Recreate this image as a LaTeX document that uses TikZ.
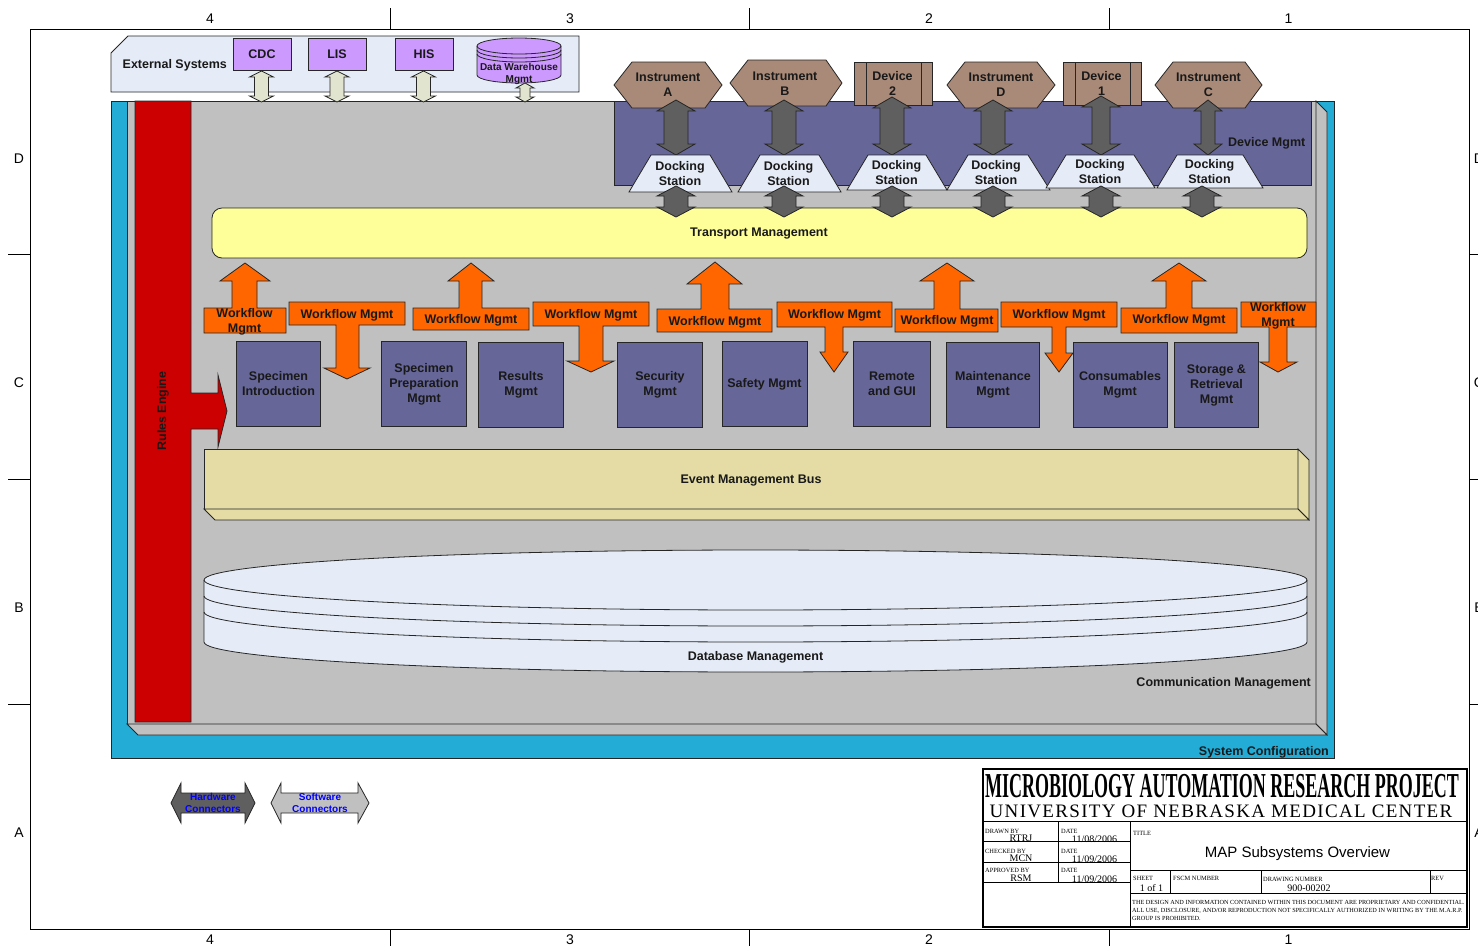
\documentclass[tikz,border=0pt]{standalone}
\usepackage{fontspec}
\setmainfont{Liberation Sans}
\newfontfamily\serifname{Liberation Serif}
\newfontfamily\uniname[LetterSpace=7]{Liberation Serif}
\usetikzlibrary{calc}
\definecolor{cfgblue}{HTML}{22ACD6}
\definecolor{panelgray}{HTML}{C0C0C0}
\definecolor{rulesred}{HTML}{CC0000}
\definecolor{mgmtblue}{HTML}{666699}
\definecolor{paleblue}{HTML}{E6ECF7}
\definecolor{extpurple}{HTML}{CC99FF}
\definecolor{linkpale}{HTML}{E1E4CF}
\definecolor{linkdark}{HTML}{5F5F5F}
\definecolor{instbrown}{HTML}{A98A78}
\definecolor{transyellow}{HTML}{FFFF99}
\definecolor{wforange}{HTML}{FF6600}
\definecolor{eventtan}{HTML}{E4DCA4}
\tikzset{
  shape line/.style={draw=black!85,line width=0.8pt,line join=miter},
  lbl/.style={font=\fontsize{12.5}{15}\selectfont\bfseries,align=center,inner sep=0pt,text=black!90},
  smalllbl/.style={font=\fontsize{10}{12}\selectfont\bfseries,align=center,inner sep=0pt,text=black!90},
  bluelbl/.style={font=\fontsize{10}{11.5}\selectfont\bfseries,align=center,inner sep=0pt,text=blue},
  grid lbl/.style={font=\fontsize{14}{16}\selectfont,inner sep=0pt},
  extbox/.style={shape line,fill=extpurple,lbl,minimum width=58,minimum height=32},
  subsys/.style={shape line,fill=mgmtblue,lbl,minimum height=85},
  wfarrow/.style={shape line,fill=wforange},
  hwlink/.style={shape line,fill=linkdark},
  swlink/.style={shape line,fill=linkpale},
  instr/.style={shape line,fill=instbrown},
  dock/.style={shape line,fill=paleblue},
  tb line/.style={draw=black,line width=0.9pt},
  tb tag/.style={font=\serifname\fontsize{6.4}{7}\selectfont,inner sep=0pt,anchor=west},
  tb val/.style={font=\serifname\fontsize{10}{11}\selectfont,inner sep=0pt},
  tb note/.style={font=\serifname\fontsize{6.25}{8}\selectfont,inner sep=0pt,anchor=north west,align=left},
}
\newcommand{\dblarrow}[8]{
  \coordinate (#2a) at (#3,#4);
  \coordinate (#2b) at (#3,#5);
  \draw[#1] (#2a) -- ($(#2a)+(#7,#8)$) -- ($(#2a)+(#6,#8)$) -- ($(#2b)+(#6,-#8)$) -- ($(#2b)+(#7,-#8)$) -- (#2b)
    -- ($(#2b)+(-#7,-#8)$) -- ($(#2b)+(-#6,-#8)$) -- ($(#2a)+(-#6,#8)$) -- ($(#2a)+(-#7,#8)$) -- cycle;
}
\begin{document}
\begin{tikzpicture}[x=1pt,y=-1pt]
  \useasboundingbox (0,0) rectangle (1478,946);
  \fill[white] (0,0) rectangle (1478,946);

  \draw[line width=0.8pt] (30,29) rectangle (1469,929);
  \draw[line width=0.8pt] (390,8) -- (390,29) (749,8) -- (749,29) (1109,8) -- (1109,29);
  \draw[line width=0.8pt] (390,929) -- (390,946) (749,929) -- (749,946) (1109,929) -- (1109,946);
  \draw[line width=0.8pt] (8,254) -- (30,254) (8,479) -- (30,479) (8,704) -- (30,704);
  \draw[line width=0.8pt] (1469,254) -- (1478,254) (1469,479) -- (1478,479) (1469,704) -- (1478,704);
  \node[grid lbl] (topfour) at (210,18.5) {4};
  \node[grid lbl] (topthree) at (570,18.5) {3};
  \node[grid lbl] (toptwo) at (929,18.5) {2};
  \node[grid lbl] (topone) at (1288.5,18.5) {1};
  \node[grid lbl] (botfour) at (210,940) {4};
  \node[grid lbl] (botthree) at (570,940) {3};
  \node[grid lbl] (bottwo) at (929,940) {2};
  \node[grid lbl] (botone) at (1288.5,940) {1};
  \node[grid lbl] (leftD) at (19,159) {D};
  \node[grid lbl] (leftC) at (19,383) {C};
  \node[grid lbl] (leftB) at (19,608) {B};
  \node[grid lbl] (leftA) at (19,833) {A};
  \node[grid lbl] (rightD) at (1479,159) {D};
  \node[grid lbl] (rightC) at (1479,383) {C};
  \node[grid lbl] (rightB) at (1479,608) {B};
  \node[grid lbl] (rightA) at (1479,833) {A};

  \draw[shape line,fill=paleblue] (111,53) -- (128,36) -- (579,36) -- (579,92) -- (111,92) -- cycle;
  \node[lbl,anchor=west] (extsys) at (122.5,65) {External Systems};
  \node[extbox] (cdc) at (262,54) {CDC};
  \node[extbox] (lis) at (337,54.5) {LIS};
  \node[extbox] (his) at (424,54.5) {HIS};
  \draw[shape line,fill=extpurple] (477,46) -- (477,75) arc[start angle=180,end angle=0,x radius=42,y radius=8] -- (561,46) arc[start angle=0,end angle=-180,x radius=42,y radius=8] -- cycle;
  \draw[shape line] (477,46) arc[start angle=180,end angle=0,x radius=42,y radius=8];
  \draw[shape line] (477,50) arc[start angle=180,end angle=0,x radius=42,y radius=8];
  \draw[shape line] (477,54) arc[start angle=180,end angle=0,x radius=42,y radius=8];
  \node[smalllbl] (dwh) at (519,74) {Data Warehouse\\Mgmt};

  \fill[cfgblue] (111,101) rectangle (1334,758);
  \draw[shape line] (111,101) rectangle (1334,758);
  \draw[shape line,fill=panelgray] (127,101) rectangle (1316,724);
  \draw[shape line,fill=panelgray] (1316,101) -- (1327,112) -- (1327,735) -- (1316,724) -- cycle;
  \draw[shape line,fill=panelgray] (127,724) -- (1316,724) -- (1327,735) -- (138,735) -- cycle;

  \dblarrow{swlink}{cdclink}{261.5}{71}{102}{7}{12}{6}
  \dblarrow{swlink}{lislink}{337}{71}{102}{7}{12}{6}
  \dblarrow{swlink}{hislink}{423.5}{71}{102}{7}{12}{6}
  \dblarrow{swlink}{dwhlink}{525}{83}{102}{5}{9}{5}

  \draw[shape line,fill=rulesred] (135,101) -- (191,101) -- (191,393) -- (218,393) -- (218,375) -- (227,411) -- (218,447) -- (218,429) -- (191,429) -- (191,722) -- (135,722) -- cycle;
  \node[lbl,rotate=90] (rules) at (163,411) {Rules Engine};

  \draw[shape line,fill=mgmtblue] (614,101) rectangle (1311,185);
  \node[lbl,anchor=east] (devmgmt) at (1305.5,143) {Device Mgmt};

  \draw[instr] (614,85) -- (632,62) -- (705,62) -- (722,85) -- (705,108) -- (632,108) -- cycle;
  \node[lbl] (instA) at (668,84.5) {Instrument\\A};
  \draw[instr] (730,83) -- (748,60) -- (826,60) -- (842,83) -- (826,106) -- (748,106) -- cycle;
  \node[lbl] (instB) at (785,83.5) {Instrument\\B};
  \draw[instr] (854,62) rectangle (932,105);
  \draw[shape line] (866,62) -- (866,105) (921,62) -- (921,105);
  \node[lbl] (devtwo) at (892.5,83.5) {Device\\2};
  \draw[instr] (947,85) -- (965,62) -- (1037,62) -- (1055,85) -- (1037,108) -- (965,108) -- cycle;
  \node[lbl] (instD) at (1001,84.5) {Instrument\\D};
  \draw[instr] (1063,62) rectangle (1141,105);
  \draw[shape line] (1075,62) -- (1075,105) (1130,62) -- (1130,105);
  \node[lbl] (devone) at (1101.5,83.5) {Device\\1};
  \draw[instr] (1155,85) -- (1173,62) -- (1245,62) -- (1262,85) -- (1245,108) -- (1173,108) -- cycle;
  \node[lbl] (instC) at (1208.5,84.5) {Instrument\\C};

  \draw[shape line,fill=transyellow,rounded corners=10] (212,208) rectangle (1307,258);
  \node[lbl] (transport) at (759,234) {Transport Management};

  \dblarrow{hwlink}{hwA}{676}{100}{155}{12}{19}{11}
  \dblarrow{hwlink}{hwB}{784}{100}{155}{12}{19}{11}
  \dblarrow{hwlink}{hwtwo}{892}{97}{155}{12}{19}{11}
  \dblarrow{hwlink}{hwD}{993}{100}{155}{12}{19}{11}
  \dblarrow{hwlink}{hwone}{1101}{96}{155}{9}{19}{11}
  \dblarrow{hwlink}{hwC}{1208}{100}{155}{7}{14}{11}

  \draw[dock] (629,192) -- (651,155) -- (710,155) -- (732,192) -- cycle;
  \node[lbl] (dockA) at (680,173.5) {Docking\\Station};
  \draw[dock] (738,192) -- (760,155) -- (819,155) -- (841,192) -- cycle;
  \node[lbl] (dockB) at (788.5,173.5) {Docking\\Station};
  \draw[dock] (847,190) -- (868,155) -- (926,155) -- (947,190) -- cycle;
  \node[lbl] (docktwo) at (896.5,172.5) {Docking\\Station};
  \draw[dock] (947,190) -- (968,155) -- (1028,155) -- (1050,190) -- cycle;
  \node[lbl] (dockD) at (996,172.5) {Docking\\Station};
  \draw[dock] (1046,188) -- (1066,155) -- (1134,155) -- (1155,188) -- cycle;
  \node[lbl] (dockone) at (1100,171.5) {Docking\\Station};
  \draw[dock] (1157,188) -- (1177,155) -- (1243,155) -- (1263,188) -- cycle;
  \node[lbl] (dockC) at (1209.5,171.5) {Docking\\Station};

  \dblarrow{hwlink}{tpA}{676}{186}{217}{12}{19}{10}
  \dblarrow{hwlink}{tpB}{784}{186}{217}{12}{19}{10}
  \dblarrow{hwlink}{tptwo}{892}{186}{217}{12}{19}{10}
  \dblarrow{hwlink}{tpD}{993}{186}{217}{12}{19}{10}
  \dblarrow{hwlink}{tpone}{1101}{186}{217}{12}{19}{10}
  \dblarrow{hwlink}{tpC}{1202}{186}{217}{12}{19}{10}

  \draw[wfarrow] (204,333) -- (286,333) -- (286,308) -- (257,308) -- (257,281) -- (270,281) -- (245,263) -- (220,281) -- (232,281) -- (232,308) -- (204,308) -- cycle;
  \node[lbl] (wfA) at (244.5,321.5) {Workflow\\Mgmt};
  \draw[wfarrow] (289,302) -- (405,302) -- (405,325) -- (359,325) -- (359,368) -- (370,368) -- (347,379) -- (324,368) -- (336,368) -- (336,325) -- (289,325) -- cycle;
  \node[lbl] (wfB) at (347,315) {Workflow Mgmt};
  \draw[wfarrow] (413,330) -- (529,330) -- (529,308) -- (482,308) -- (482,281) -- (494,281) -- (471,263) -- (448,281) -- (459,281) -- (459,308) -- (413,308) -- cycle;
  \node[lbl] (wfC) at (471,320) {Workflow Mgmt};
  \draw[wfarrow] (533,302) -- (649,302) -- (649,326) -- (603,326) -- (603,361) -- (614,361) -- (591,372) -- (567,361) -- (579,361) -- (579,326) -- (533,326) -- cycle;
  \node[lbl] (wfD) at (591,315) {Workflow Mgmt};
  \draw[wfarrow] (657,332) -- (772,332) -- (772,309) -- (729,309) -- (729,284) -- (742,284) -- (715,262) -- (687,284) -- (701,284) -- (701,309) -- (657,309) -- cycle;
  \node[lbl] (wfE) at (715,322) {Workflow Mgmt};
  \draw[wfarrow] (777,302) -- (892,302) -- (892,327) -- (843,327) -- (843,352) -- (848,352) -- (834,372) -- (820,352) -- (825,352) -- (825,327) -- (777,327) -- cycle;
  \node[lbl] (wfF) at (834.5,315) {Workflow Mgmt};
  \draw[wfarrow] (895,332) -- (998,332) -- (998,309) -- (960,309) -- (960,281) -- (974,281) -- (947,263) -- (920,281) -- (934,281) -- (934,309) -- (895,309) -- cycle;
  \node[lbl] (wfG) at (947,321) {Workflow Mgmt};
  \draw[wfarrow] (1001,302) -- (1117,302) -- (1117,327) -- (1066,327) -- (1066,353) -- (1073,353) -- (1059,372) -- (1045,353) -- (1052,353) -- (1052,327) -- (1001,327) -- cycle;
  \node[lbl] (wfH) at (1059,315) {Workflow Mgmt};
  \draw[wfarrow] (1121,333) -- (1237,333) -- (1237,308) -- (1192,308) -- (1192,281) -- (1206,281) -- (1179,263) -- (1152,281) -- (1166,281) -- (1166,308) -- (1121,308) -- cycle;
  \node[lbl] (wfI) at (1179,320.5) {Workflow Mgmt};
  \draw[wfarrow] (1241,302) -- (1316,302) -- (1316,327) -- (1287,327) -- (1287,362) -- (1297,362) -- (1278,372) -- (1260,362) -- (1269,362) -- (1269,327) -- (1241,327) -- cycle;
  \node[lbl] (wfJ) at (1278,315.5) {Workflow\\Mgmt};

  \node[subsys,minimum width=84] (specintro) at (278.5,383.5) {Specimen\\Introduction};
  \node[subsys,minimum width=85] (specprep) at (424,384) {Specimen\\Preparation\\Mgmt};
  \node[subsys,minimum width=85] (results) at (521,384.5) {Results\\Mgmt};
  \node[subsys,minimum width=85] (security) at (660,384.5) {Security\\Mgmt};
  \node[subsys,minimum width=85] (safety) at (764.5,384) {Safety Mgmt};
  \node[subsys,minimum width=77] (remote) at (892,383.5) {Remote\\and GUI};
  \node[subsys,minimum width=93] (maint) at (993,384.5) {Maintenance\\Mgmt};
  \node[subsys,minimum width=94] (consum) at (1120,385) {Consumables\\Mgmt};
  \node[subsys,minimum width=84] (storage) at (1216.5,385) {Storage \&\\Retrieval\\Mgmt};

  \draw[shape line,fill=eventtan] (204,449) -- (1298,449) -- (1298,509) -- (204,509) -- cycle;
  \draw[shape line,fill=eventtan] (1298,449) -- (1309,460) -- (1309,520) -- (1298,509) -- cycle;
  \draw[shape line,fill=eventtan] (204,509) -- (1298,509) -- (1309,520) -- (215,520) -- cycle;
  \node[lbl] (eventbus) at (751,480.5) {Event Management Bus};

  \draw[shape line,fill=paleblue] (204,580) -- (204,642) arc[start angle=180,end angle=0,x radius=551.5,y radius=30] -- (1307,580) arc[start angle=0,end angle=-180,x radius=551.5,y radius=30] -- cycle;
  \draw[shape line] (204,580) arc[start angle=180,end angle=0,x radius=551.5,y radius=30];
  \draw[shape line] (204,596) arc[start angle=180,end angle=0,x radius=551.5,y radius=30];
  \draw[shape line] (204,612) arc[start angle=180,end angle=0,x radius=551.5,y radius=30];
  \node[lbl] (database) at (755.5,657) {Database Management};

  \node[lbl,anchor=east] (commgmt) at (1311,683) {Communication Management};
  \node[lbl,anchor=east] (syscfg) at (1329,752) {System Configuration};

  \draw[shape line,fill=linkdark] (171,803) -- (181,783) -- (181,793) -- (245,793) -- (245,783) -- (255,803) -- (245,823) -- (245,813) -- (181,813) -- (181,823) -- cycle;
  \node[bluelbl] (hwlegend) at (213,803) {Hardware\\Connectors};
  \draw[shape line,fill=panelgray] (271,803) -- (281,783) -- (281,793) -- (358,793) -- (358,783) -- (369,803) -- (358,823) -- (358,813) -- (281,813) -- (281,823) -- cycle;
  \node[bluelbl] (swlegend) at (320,803) {Software\\Connectors};

  \draw[line width=1.4pt,fill=white] (983,769) rectangle (1467,927);
  \node[font=\serifname\bfseries\fontsize{35}{35}\selectfont,inner sep=0pt,xscale=0.514] (project) at (1222,786) {MICROBIOLOGY AUTOMATION RESEARCH PROJECT};
  \node[font=\uniname\fontsize{19}{19}\selectfont,inner sep=0pt] (univ) at (1221,811) {UNIVERSITY OF NEBRASKA MEDICAL CENTER};
  \draw[tb line] (983,821) -- (1467,821);
  \draw[tb line] (1130,821) -- (1130,927);
  \draw[tb line] (1058,821) -- (1058,882);
  \draw[tb line] (983,841) -- (1130,841) (983,862) -- (1130,862) (983,882) -- (1130,882);
  \draw[tb line] (1130,870) -- (1467,870) (1130,893) -- (1467,893);
  \draw[tb line] (1170,870) -- (1170,893) (1261,870) -- (1261,893) (1430,870) -- (1430,893);
  \node[tb tag] (drawntag) at (985,831) {DRAWN BY};
  \node[tb val] (drawnval) at (1021,838) {RTRJ};
  \node[tb tag] (datea) at (1061,831) {DATE};
  \node[tb val] (dateaval) at (1094.5,839) {11/08/2006};
  \node[tb tag] (checktag) at (985,851) {CHECKED BY};
  \node[tb val] (checkval) at (1021,858) {MCN};
  \node[tb tag] (dateb) at (1061,851) {DATE};
  \node[tb val] (datebval) at (1094.5,859) {11/09/2006};
  \node[tb tag] (apprtag) at (985,870) {APPROVED BY};
  \node[tb val] (apprval) at (1021,878.5) {RSM};
  \node[tb tag] (datec) at (1061,870) {DATE};
  \node[tb val] (datecval) at (1094.5,879) {11/09/2006};
  \node[tb tag] (titletag) at (1133,833) {TITLE};
  \node[font=\fontsize{15}{16}\selectfont,inner sep=0pt] (maptitle) at (1297.5,853.5) {MAP Subsystems Overview};
  \node[tb tag] (sheettag) at (1133,878) {SHEET};
  \node[tb val] (sheetval) at (1151.5,888) {1 of 1};
  \node[tb tag] (fscmtag) at (1173,878) {FSCM NUMBER};
  \node[tb tag] (drawnotag) at (1263,879) {DRAWING NUMBER};
  \node[tb val] (drawnoval) at (1309,888) {900-00202};
  \node[tb tag] (revtag) at (1431,878.5) {REV};
  \node[tb note] (notice) at (1132,900) {THE DESIGN AND INFORMATION CONTAINED WITHIN THIS DOCUMENT ARE PROPRIETARY AND CONFIDENTIAL.\\ALL USE, DISCLOSURE, AND/OR REPRODUCTION NOT SPECIFICALLY AUTHORIZED IN WRITING BY THE M.A.R.P.\\GROUP IS PROHIBITED.};
\end{tikzpicture}
\end{document}
